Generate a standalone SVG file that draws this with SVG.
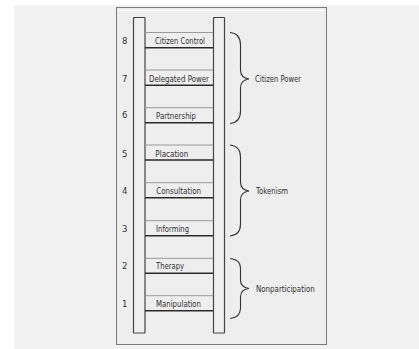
<svg xmlns="http://www.w3.org/2000/svg" width="419" height="349" viewBox="0 0 419 349">
<style>
.num{font-family:"DejaVu Sans",sans-serif;font-size:8.5px;fill:#333}
.lbl{font-family:"DejaVu Sans",sans-serif;font-size:9px;fill:#2e2e2e}
.thin{stroke:#9a9a9a;stroke-width:1}
.thick{stroke:#2a2a2a;stroke-width:1.6}
.rail{fill:#f0f0f0;stroke:#444;stroke-width:1.2}
.brace{fill:none;stroke:#333;stroke-width:1.1}
</style>
<rect x="0" y="0" width="419" height="349" fill="#ffffff"/>
<rect x="14" y="5" width="405" height="344" fill="#f2f2f2"/>
<rect x="116.5" y="7.5" width="210" height="337" fill="#eeeeee" stroke="#7a7a7a" stroke-width="1"/>
<line x1="119" y1="10.5" x2="324" y2="10.5" stroke="#ffffff" stroke-width="1"/>
<g id="ladder">
<rect class="rail" x="133.5" y="17.5" width="11.5" height="315.5" rx="0.5"/>
<rect class="rail" x="213.5" y="17.5" width="11" height="315.5" rx="0.5"/>
</g>
<g id="rungs">
<line class="thin" x1="145" y1="32.5" x2="213" y2="32.5"/><line class="thick" x1="145" y1="47.7" x2="213" y2="47.7"/>
<line class="thin" x1="145" y1="70" x2="213" y2="70"/><line class="thick" x1="145" y1="85.3" x2="213" y2="85.3"/>
<line class="thin" x1="145" y1="107.7" x2="213" y2="107.7"/><line class="thick" x1="145" y1="122.7" x2="213" y2="122.7"/>
<line class="thin" x1="145" y1="145" x2="213" y2="145"/><line class="thick" x1="145" y1="160" x2="213" y2="160"/>
<line class="thin" x1="145" y1="182.7" x2="213" y2="182.7"/><line class="thick" x1="145" y1="197.7" x2="213" y2="197.7"/>
<line class="thin" x1="145" y1="220.7" x2="213" y2="220.7"/><line class="thick" x1="145" y1="235.7" x2="213" y2="235.7"/>
<line class="thin" x1="145" y1="258.3" x2="213" y2="258.3"/><line class="thick" x1="145" y1="273.3" x2="213" y2="273.3"/>
<line class="thin" x1="145" y1="295.7" x2="213" y2="295.7"/><line class="thick" x1="145" y1="310.7" x2="213" y2="310.7"/>
</g>
<g id="step8"><text class="num" x="122" y="43.8">8</text><text class="lbl" x="155" y="43.8" textLength="50" lengthAdjust="spacingAndGlyphs">Citizen Control</text></g>
<g id="step7"><text class="num" x="122" y="81.8">7</text><text class="lbl" x="149" y="81.8" textLength="60" lengthAdjust="spacingAndGlyphs">Delegated Power</text></g>
<g id="step6"><text class="num" x="122" y="118.3">6</text><text class="lbl" x="156" y="118.7" textLength="40" lengthAdjust="spacingAndGlyphs">Partnership</text></g>
<g id="step5"><text class="num" x="122" y="156.8">5</text><text class="lbl" x="155.3" y="156.8" textLength="33" lengthAdjust="spacingAndGlyphs">Placation</text></g>
<g id="step4"><text class="num" x="122" y="193.8">4</text><text class="lbl" x="156.3" y="194.3" textLength="44.7" lengthAdjust="spacingAndGlyphs">Consultation</text></g>
<g id="step3"><text class="num" x="122" y="231.8">3</text><text class="lbl" x="156" y="231.8" textLength="33" lengthAdjust="spacingAndGlyphs">Informing</text></g>
<g id="step2"><text class="num" x="122" y="268.8">2</text><text class="lbl" x="156" y="268.8" textLength="28" lengthAdjust="spacingAndGlyphs">Therapy</text></g>
<g id="step1"><text class="num" x="122" y="307.3">1</text><text class="lbl" x="156" y="306.8" textLength="45" lengthAdjust="spacingAndGlyphs">Manipulation</text></g>
<g id="connectors">
<path class="brace" d="M230,32.5 Q240.5,33.5 240.5,45 L240.5,70 Q240.5,78 249,79 Q240.5,80 240.5,88 L240.5,111 Q240.5,122.5 230,123.5"/>
<path class="brace" d="M230,145 Q240.5,146 240.5,157 L240.5,182 Q240.5,190 249,191 Q240.5,192 240.5,200 L240.5,224 Q240.5,235 230,236"/>
<path class="brace" d="M230,258.5 Q240.5,259.5 240.5,268 L240.5,280 Q240.5,287.5 249,288.5 Q240.5,289.5 240.5,297 L240.5,308 Q240.5,317.5 230,318.5"/>
</g>
<g id="group-citizen-power"><text class="lbl" x="255" y="82.2" textLength="46" lengthAdjust="spacingAndGlyphs">Citizen Power</text></g>
<g id="group-tokenism"><text class="lbl" x="256" y="194.2" textLength="32" lengthAdjust="spacingAndGlyphs">Tokenism</text></g>
<g id="group-nonparticipation"><text class="lbl" x="256" y="291.7" textLength="58.7" lengthAdjust="spacingAndGlyphs">Nonparticipation</text></g>
</svg>
